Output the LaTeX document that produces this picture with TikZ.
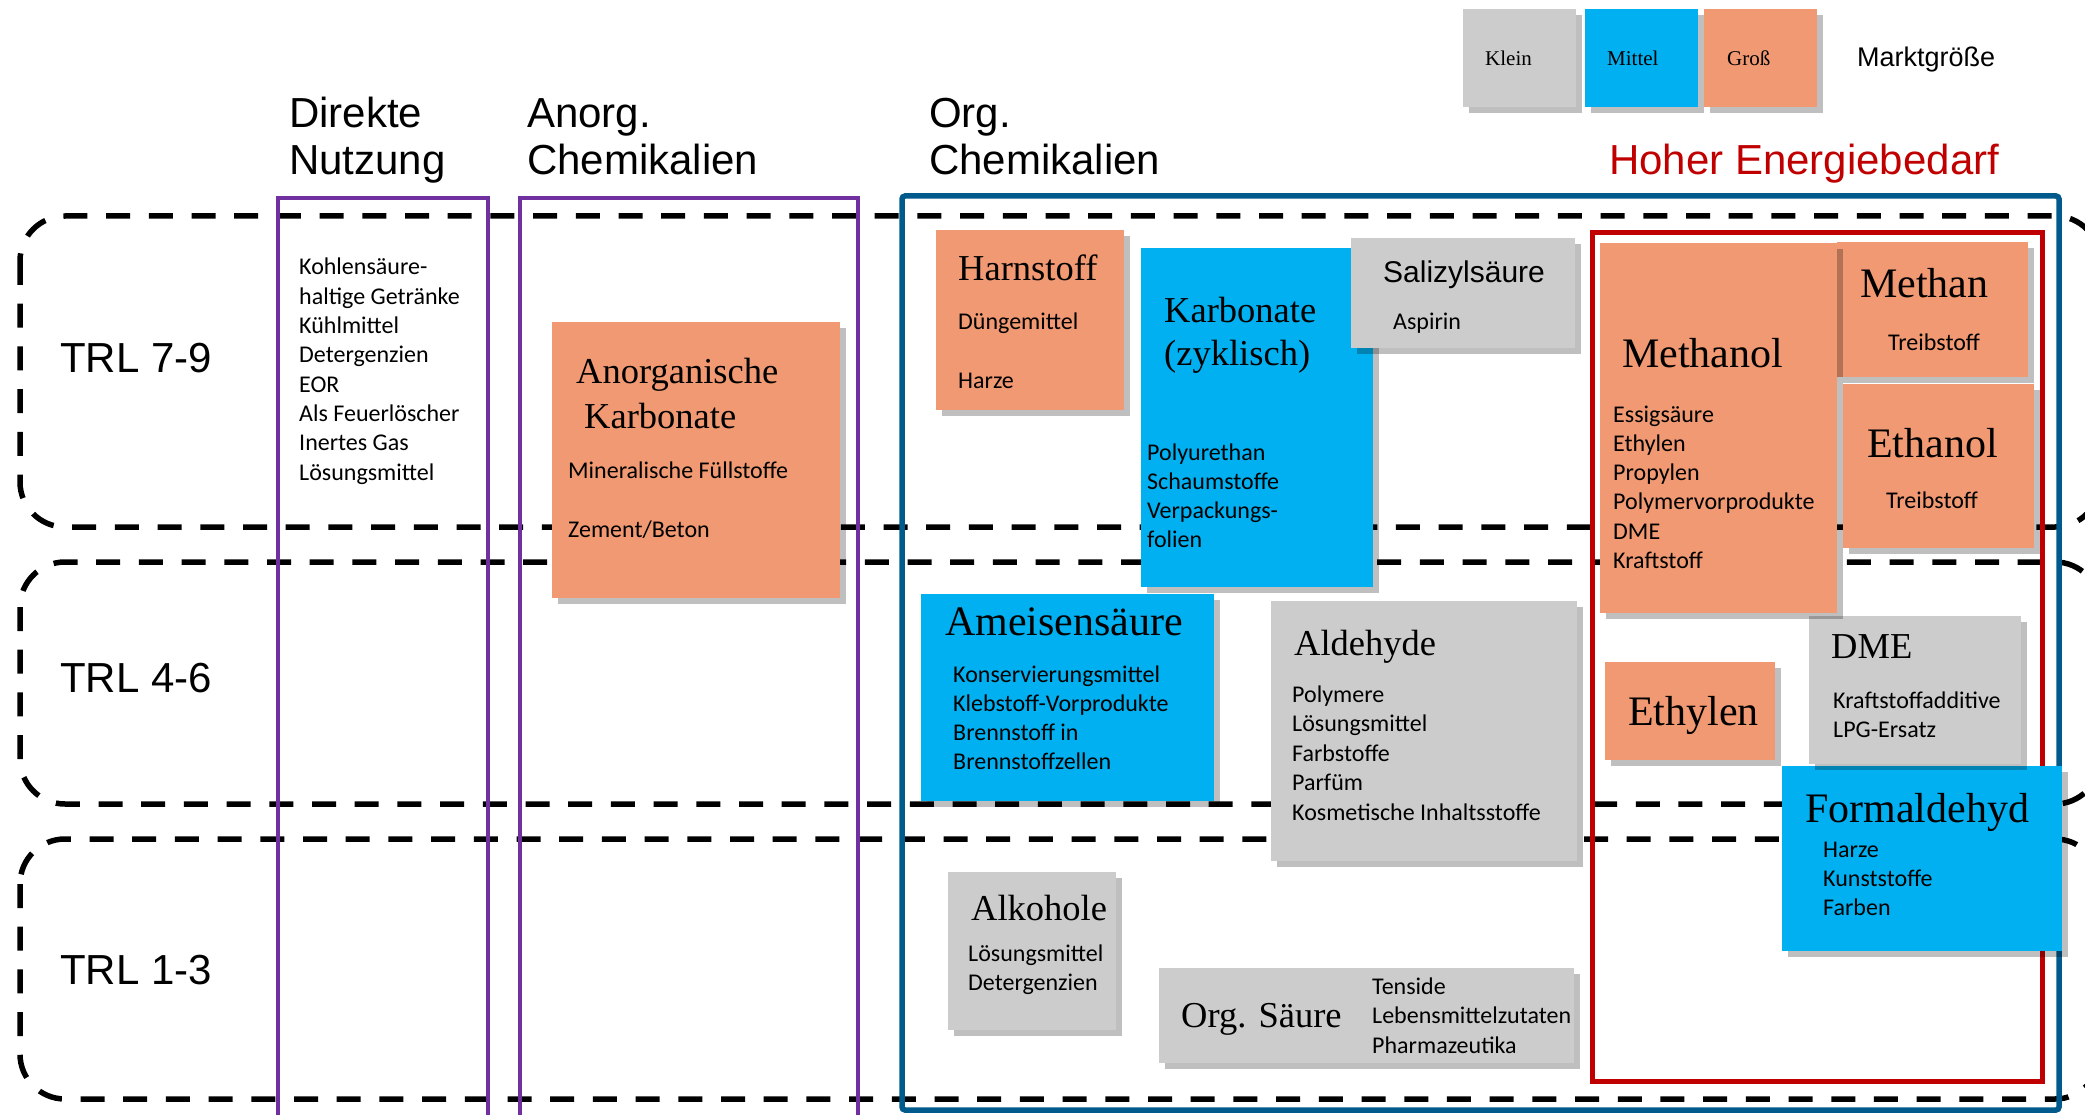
\documentclass[tikz,border=0pt]{standalone}
\usepackage{fontspec}
\setmainfont{Liberation Serif}
\newfontfamily\headfont{Liberation Sans}
\newfontfamily\itemfont{Carlito}
\usetikzlibrary{shadows}

\definecolor{klein}{RGB}{204,204,204}
\definecolor{mittel}{RGB}{0,176,240}
\definecolor{gross}{RGB}{240,153,114}
\definecolor{lila}{RGB}{112,48,160}
\definecolor{orgblau}{RGB}{0,90,140}
\definecolor{energierot}{RGB}{192,0,0}

\tikzset{
  trlband/.style={draw, line width=5.5pt, dash pattern=on 24pt off 18.7pt, rounded corners=45pt},
  gruppe/.style={draw, line width=4.5pt},
  feld/.style={rectangle, inner sep=0pt, anchor=north west, draw=none,
    general shadow={shadow xshift=6pt, shadow yshift=-6pt, fill=black, fill opacity=0.25}},
  kopf/.style={font=\headfont\fontsize{42}{47}\selectfont, anchor=base west, inner sep=0pt},
  titel/.style={font=\fontsize{42}{50}\selectfont, anchor=base west, inner sep=0pt},
  titelk/.style={font=\fontsize{36.5}{42}\selectfont, anchor=base west, inner sep=0pt},
  punkt/.style={font=\itemfont\fontsize{24}{29.3}\selectfont, anchor=base west, inner sep=0pt},
  legtext/.style={font=\fontsize{21}{25}\selectfont, anchor=base west, inner sep=0pt}
}

\begin{document}
\begin{tikzpicture}[x=1pt, y=-1pt]
\useasboundingbox (0,0) rectangle (2085,1115);

% TRL bands
\draw[trlband] (20,216) rectangle (2100,527);
\draw[trlband] (20,562) rectangle (2100,804);
\draw[trlband] (20,839) rectangle (2100,1099);
\node[kopf] (trl79) at (60,372) {TRL 7-9};
\node[kopf] (trl46) at (60,692) {TRL 4-6};
\node[kopf] (trl13) at (60,984) {TRL 1-3};

% column frames
\draw[gruppe, lila] (278,198) rectangle (488,1135);
\draw[gruppe, lila] (520,198) rectangle (858,1135);
\draw[gruppe, orgblau, line width=5.5pt, rounded corners=3pt] (902,196) rectangle (2059,1110);
\draw[gruppe, energierot, line width=5pt] (1592,233) rectangle (2042,1081);

% headers
\node[kopf] (direkt1) at (289,128) {Direkte};
\node[kopf] (direkt2) at (289,175) {Nutzung};
\node[kopf] (anorg1) at (527,128) {Anorg.};
\node[kopf] (anorg2) at (527,175) {Chemikalien};
\node[kopf] (org1) at (929,128) {Org.};
\node[kopf] (org2) at (929,175) {Chemikalien};
\node[kopf, text=energierot] (energie) at (1609,175) {Hoher Energiebedarf};

% legend
\node[feld, fill=klein, minimum width=113pt, minimum height=98pt] (legklein) at (1463,9) {};
\node[feld, fill=mittel, minimum width=113pt, minimum height=98pt] (legmittel) at (1585,9) {};
\node[feld, fill=gross, minimum width=113pt, minimum height=98pt] (leggross) at (1704,9) {};
\node[legtext] (tklein) at (1485,66) {Klein};
\node[legtext] (tmittel) at (1607,66) {Mittel};
\node[legtext] (tgross) at (1727,66) {Groß};
\node[font=\headfont\fontsize{27}{32}\selectfont, anchor=base west, inner sep=0pt] (markt) at (1857,67) {Marktgröße};

% direct use
\foreach \t [count=\i from 0] in {Kohlensäure-, haltige Getränke, Kühlmittel, Detergenzien, EOR, Als Feuerlöscher, Inertes Gas, Lösungsmittel}
  \node[punkt] (direkt-\i) at (299,{275+29.3*\i}) {\t};

% inorganic
\node[feld, fill=gross, minimum width=288pt, minimum height=276pt] (anorgkarb) at (552,322) {};
\node[titelk] (anorgkarb-t1) at (576,383) {Anorganische};
\node[titelk] (anorgkarb-t2) at (584,428) {Karbonate};
\node[punkt] (anorgkarb-1) at (568,478) {Mineralische Füllstoffe};
\node[punkt] (anorgkarb-2) at (568,537) {Zement/Beton};

% organic, TRL 7-9
\node[feld, fill=gross, minimum width=188pt, minimum height=180pt] (harn) at (936,230) {};
\node[titelk] (harn-t) at (958,280) {Harnstoff};
\node[punkt] (harn-1) at (958,330) {Düngemittel};
\node[punkt] (harn-2) at (958,388) {Harze};

\node[feld, fill=mittel, minimum width=232pt, minimum height=339pt] (karb) at (1141,248) {};
\node[titelk] (karb-t1) at (1164,322) {Karbonate};
\node[titelk] (karb-t2) at (1164,365) {(zyklisch)};
\foreach \t [count=\i from 0] in {Polyurethan, Schaumstoffe, Verpackungs-, folien}
  \node[punkt] (karb-\i) at (1147,{460+29.3*\i}) {\t};

\node[feld, fill=klein, minimum width=224pt, minimum height=110pt] (sali) at (1351,238) {};
\node[font=\headfont\fontsize{30}{36}\selectfont, anchor=base west, inner sep=0pt] (sali-t) at (1383,283) {Salizylsäure};
\node[punkt] (sali-1) at (1393,329) {Aspirin};

% high energy demand
\node[feld, fill=gross, minimum width=191pt, minimum height=135pt] (methan) at (1837,242) {};
\node[titel] (methan-t) at (1860,298) {Methan};
\node[punkt] (methan-1) at (1888,350) {Treibstoff};

\node[feld, fill=gross, minimum width=191pt, minimum height=164pt] (ethanol) at (1843,384) {};
\node[titel] (ethanol-t) at (1867,457) {Ethanol};
\node[punkt] (ethanol-1) at (1886,508) {Treibstoff};

\node[feld, fill=mittel, minimum width=280pt, minimum height=185pt] (form) at (1782,766) {};
\node[titel] (form-t) at (1805,822) {Formaldehyd};
\foreach \t [count=\i from 0] in {Harze, Kunststoffe, Farben}
  \node[punkt] (form-\i) at (1823,{857+29.3*\i}) {\t};

\node[feld, fill=klein, minimum width=212pt, minimum height=148pt] (dme) at (1809,616) {};
\node[titelk] (dme-t) at (1831,658) {DME};
\foreach \t [count=\i from 0] in {Kraftstoffadditive, LPG-Ersatz}
  \node[punkt] (dme-\i) at (1833,{708+29.5*\i}) {\t};

\node[feld, fill=gross, minimum width=237pt, minimum height=370pt] (methanol) at (1600,243) {};
\node[titel] (methanol-t) at (1622,367) {Methanol};
\foreach \t [count=\i from 0] in {Essigsäure, Ethylen, Propylen, Polymervorprodukte, DME, Kraftstoff}
  \node[punkt] (methanol-\i) at (1613,{422+29.3*\i}) {\t};

\node[feld, fill=gross, minimum width=170pt, minimum height=98pt] (ethylen) at (1605,662) {};
\node[titel] (ethylen-t) at (1628,725) {Ethylen};

% organic, TRL 4-6
\node[feld, fill=mittel, minimum width=293pt, minimum height=207pt] (amei) at (921,594) {};
\node[titel] (amei-t) at (945,635) {Ameisensäure};
\foreach \t [count=\i from 0] in {Konservierungsmittel, Klebstoff-Vorprodukte, Brennstoff in, Brennstoffzellen}
  \node[punkt] (amei-\i) at (953,{682+29.3*\i}) {\t};

\node[feld, fill=klein, minimum width=306pt, minimum height=260pt] (ald) at (1271,601) {};
\node[titelk] (ald-t) at (1294,655) {Aldehyde};
\foreach \t [count=\i from 0] in {Polymere, Lösungsmittel, Farbstoffe, Parfüm, Kosmetische Inhaltsstoffe}
  \node[punkt] (ald-\i) at (1292,{702+29.5*\i}) {\t};

% organic, TRL 1-3
\node[feld, fill=klein, minimum width=168pt, minimum height=158pt] (alk) at (948,872) {};
\node[titelk] (alk-t) at (971,920) {Alkohole};
\foreach \t [count=\i from 0] in {Lösungsmittel, Detergenzien}
  \node[punkt] (alk-\i) at (968,{961+29.5*\i}) {\t};

\node[feld, fill=klein, minimum width=415pt, minimum height=95pt] (orgs) at (1159,968) {};
\node[titelk] (orgs-t) at (1181,1027) {Org. Säure};
\foreach \t [count=\i from 0] in {Tenside, Lebensmittelzutaten, Pharmazeutika}
  \node[punkt] (orgs-\i) at (1372,{994+29.5*\i}) {\t};

\end{tikzpicture}
\end{document}
